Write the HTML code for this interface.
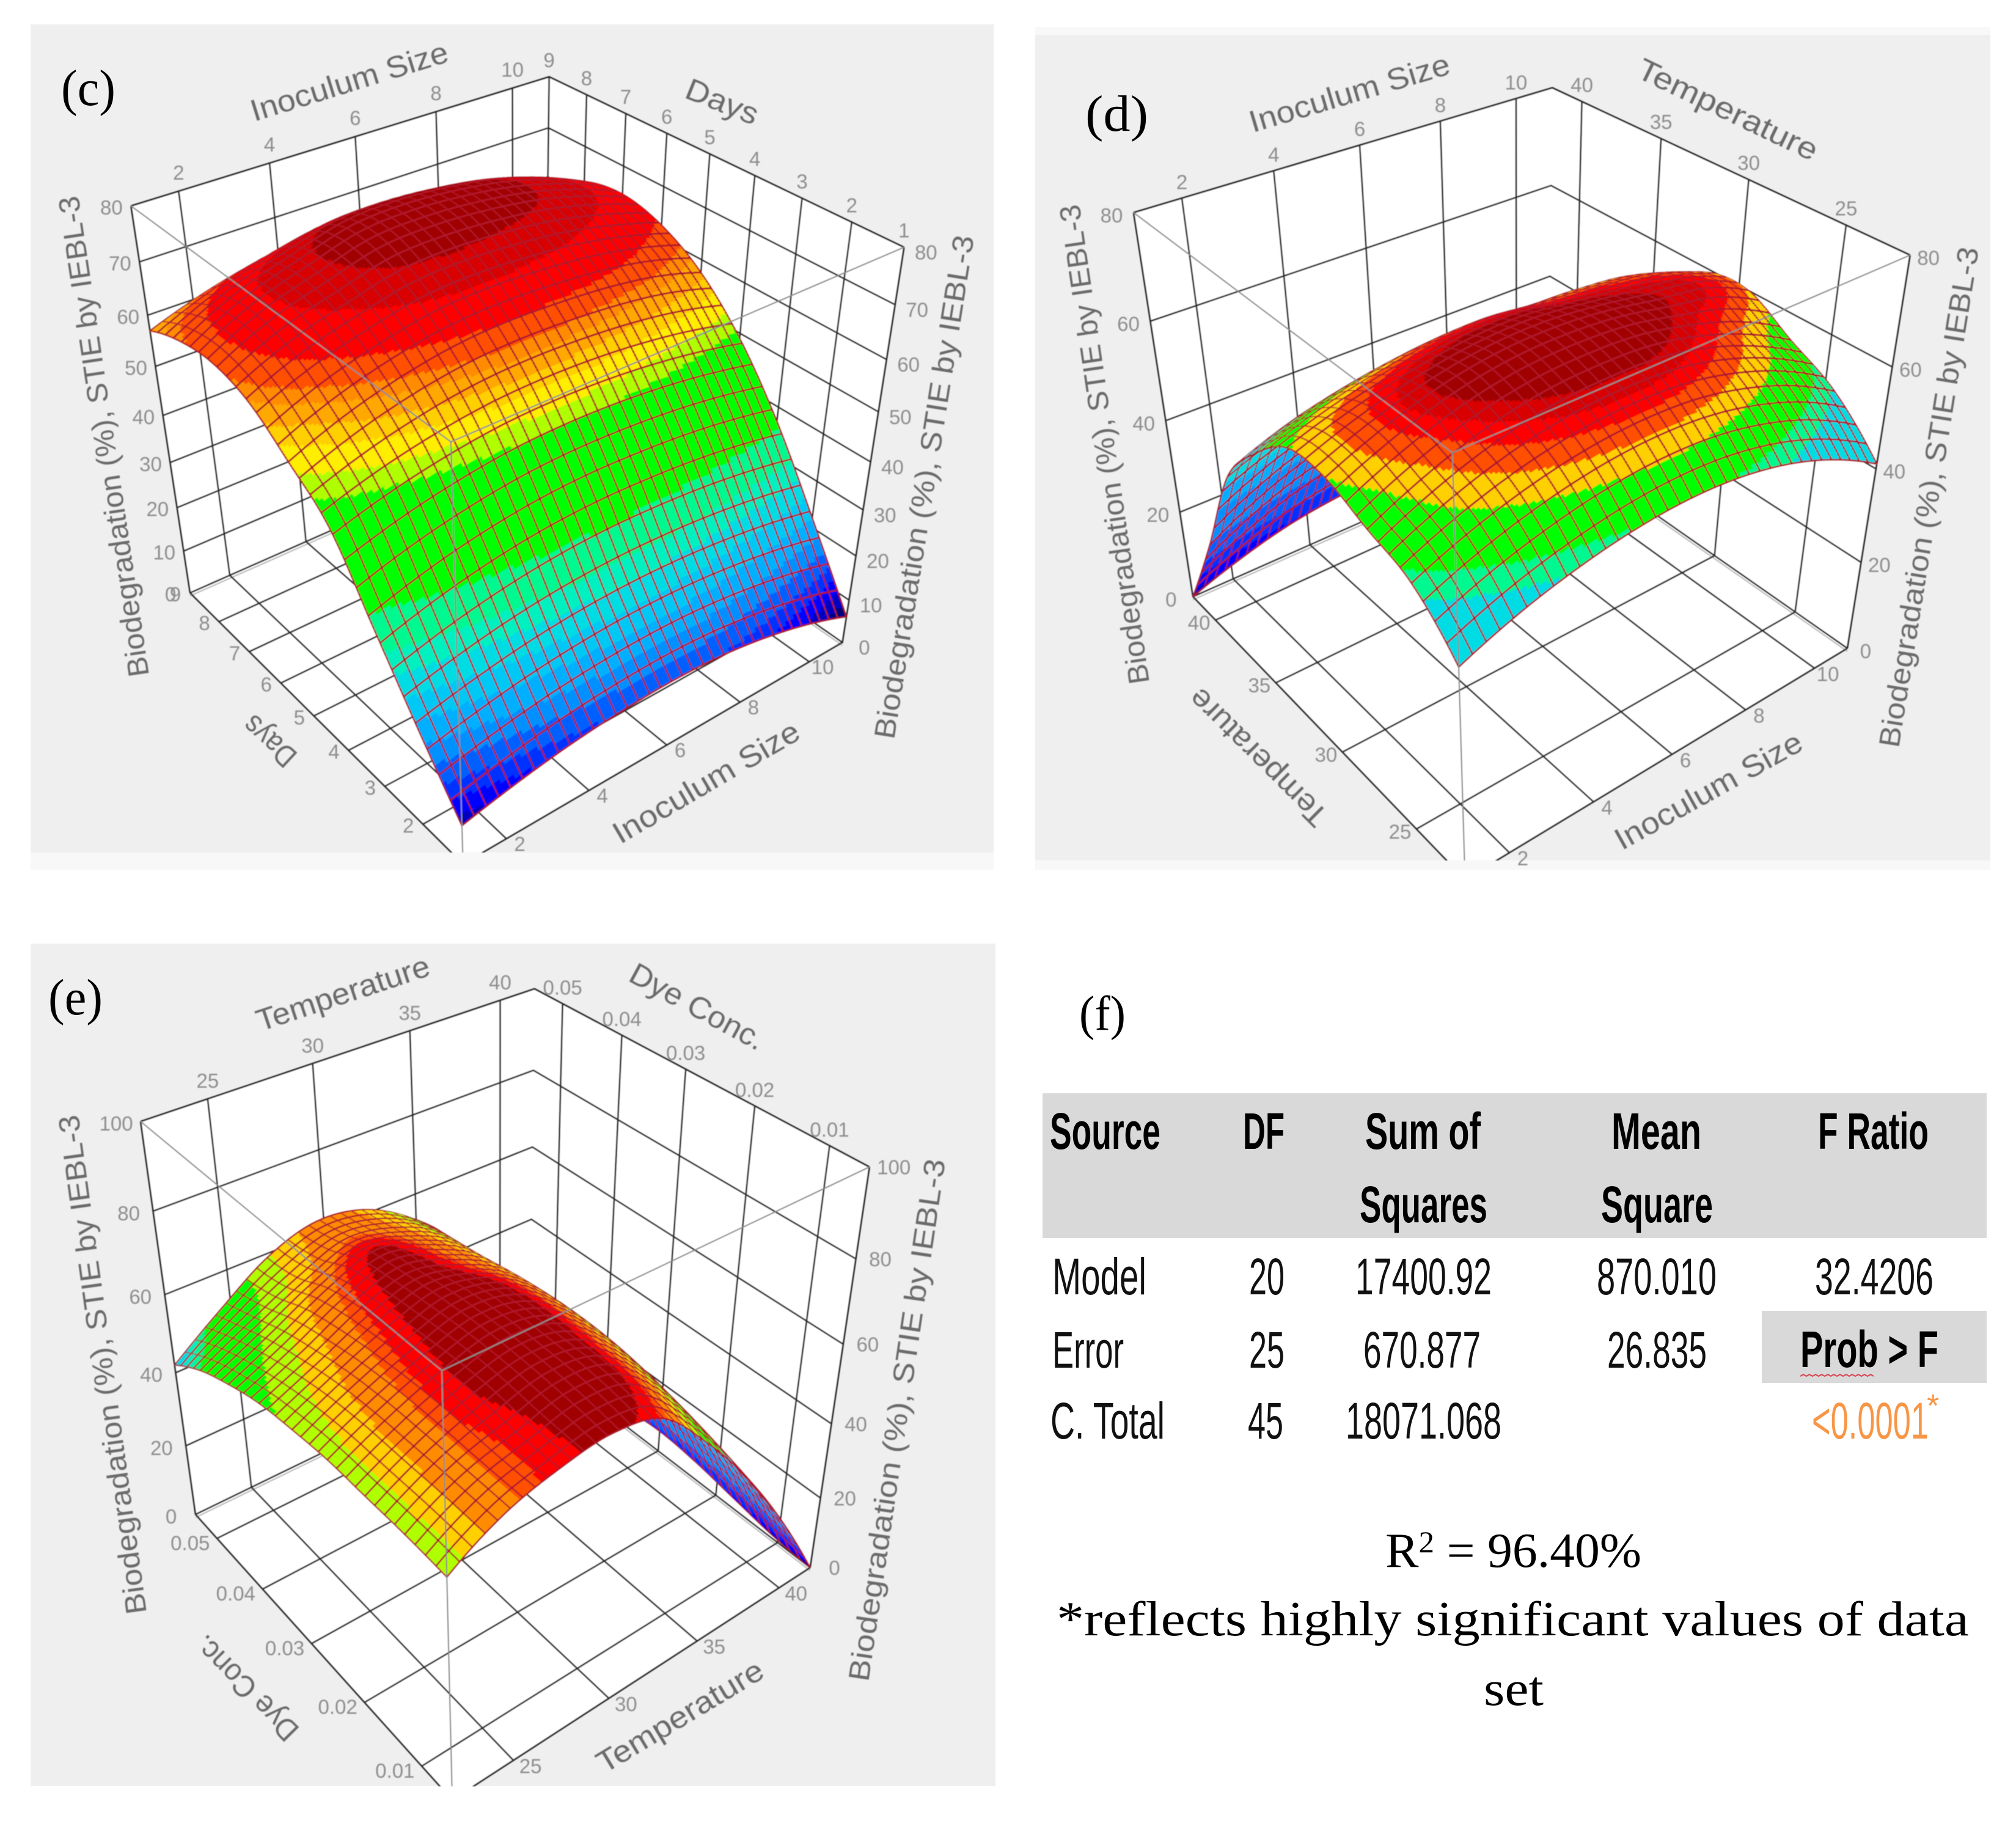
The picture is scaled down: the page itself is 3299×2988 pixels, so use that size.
<!DOCTYPE html>
<html lang="en">
<head>
<meta charset="utf-8">
<title>Response surface plots and ANOVA table</title>
<style>
html,body{margin:0;padding:0;background:#fff}
svg{display:block}
.serif{font-family:"Liberation Serif",serif;fill:#000}
.tb{font-family:"Liberation Sans",sans-serif;font-size:84px;fill:#111}
.tbb{font-family:"Liberation Sans",sans-serif;font-size:84px;font-weight:bold;fill:#000}
</style>
</head>
<body>
<svg id="root" xmlns="http://www.w3.org/2000/svg" width="3299" height="2988" viewBox="0 0 3299 2988">
<defs>
<filter id="soft" x="0" y="0" width="1" height="1"><feGaussianBlur stdDeviation="0.7"/></filter>
<clipPath id="clip-c"><rect x="50" y="40" width="1576" height="1355"/></clipPath>
<clipPath id="clip-d"><rect x="1694" y="57" width="1563" height="1351"/></clipPath>
<clipPath id="clip-e"><rect x="50" y="1544" width="1579" height="1379"/></clipPath>
</defs>
<rect x="0" y="0" width="3299" height="2988" fill="#fff"/>
<rect x="50" y="1395" width="1576" height="29" fill="#f8f8f8"/>
<rect x="50" y="40" width="1576" height="1355" fill="#efefef"/>
<rect x="1694" y="44" width="1563" height="1380" fill="#f8f8f8"/>
<rect x="1694" y="57" width="1563" height="1351" fill="#efefef"/>
<rect x="50" y="1544" width="1579" height="1379" fill="#efefef"/>
<g id="charts" filter="url(#soft)"></g>

<text class="serif" x="100" y="172" font-size="84" textLength="89" lengthAdjust="spacingAndGlyphs">(c)</text>
<text class="serif" x="1776" y="214" font-size="84" textLength="103" lengthAdjust="spacingAndGlyphs">(d)</text>
<text class="serif" x="79" y="1660" font-size="84" textLength="89" lengthAdjust="spacingAndGlyphs">(e)</text>
<text class="serif" x="1766" y="1685" font-size="80" textLength="76" lengthAdjust="spacingAndGlyphs">(f)</text>

<g>
<rect x="1706" y="1789" width="1545" height="237" fill="#d9d9d9"/>
<rect x="2883" y="2145" width="368" height="118" fill="#d9d9d9"/>
<text class="tbb" x="1718" y="1880" textLength="181" lengthAdjust="spacingAndGlyphs">Source</text>
<text class="tbb" x="2034" y="1880" textLength="68" lengthAdjust="spacingAndGlyphs">DF</text>
<text class="tbb" x="2234" y="1880" textLength="189" lengthAdjust="spacingAndGlyphs">Sum of</text>
<text class="tbb" x="2637" y="1880" textLength="147" lengthAdjust="spacingAndGlyphs">Mean</text>
<text class="tbb" x="2975" y="1880" textLength="181" lengthAdjust="spacingAndGlyphs">F Ratio</text>
<text class="tbb" x="2225" y="2000" textLength="209" lengthAdjust="spacingAndGlyphs">Squares</text>
<text class="tbb" x="2620" y="2000" textLength="183" lengthAdjust="spacingAndGlyphs">Square</text>
<text class="tb" x="1722" y="2118" textLength="154" lengthAdjust="spacingAndGlyphs">Model</text>
<text class="tb" x="2044" y="2118" textLength="58" lengthAdjust="spacingAndGlyphs">20</text>
<text class="tb" x="2218" y="2118" textLength="223" lengthAdjust="spacingAndGlyphs">17400.92</text>
<text class="tb" x="2613" y="2118" textLength="196" lengthAdjust="spacingAndGlyphs">870.010</text>
<text class="tb" x="2970" y="2118" textLength="194" lengthAdjust="spacingAndGlyphs">32.4206</text>
<text class="tb" x="1722" y="2238" textLength="117" lengthAdjust="spacingAndGlyphs">Error</text>
<text class="tb" x="2044" y="2238" textLength="58" lengthAdjust="spacingAndGlyphs">25</text>
<text class="tb" x="2231" y="2238" textLength="192" lengthAdjust="spacingAndGlyphs">670.877</text>
<text class="tb" x="2630" y="2238" textLength="163" lengthAdjust="spacingAndGlyphs">26.835</text>
<text class="tbb" x="2946" y="2237" textLength="226" lengthAdjust="spacingAndGlyphs">Prob &gt; F</text>
<path d="M2946 2252l5 -3l5 3l5 -3l5 3l5 -3l5 3l5 -3l5 3l5 -3l5 3l5 -3l5 3l5 -3l5 3l5 -3l5 3l5 -3l5 3l5 -3l5 3l5 -3l5 3l5 -3l5 3" fill="none" stroke="#d64550" stroke-width="2"/>
<text class="tb" x="1719" y="2354" textLength="187" lengthAdjust="spacingAndGlyphs">C. Total</text>
<text class="tb" x="2042" y="2354" textLength="58" lengthAdjust="spacingAndGlyphs">45</text>
<text class="tb" x="2202" y="2354" textLength="255" lengthAdjust="spacingAndGlyphs">18071.068</text>
<text class="tb" x="2965" y="2354" textLength="191" lengthAdjust="spacingAndGlyphs" style="fill:#f79646">&lt;0.0001</text>
<text class="tb" x="3153" y="2318" style="fill:#f79646;font-size:52px">*</text>
</g>

<text class="serif" x="2267" y="2564" font-size="80" textLength="419" lengthAdjust="spacingAndGlyphs">R<tspan font-size="50" dy="-24">2</tspan><tspan dy="24"> = 96.40%</tspan></text>
<text class="serif" x="1729" y="2676" font-size="80" textLength="1493" lengthAdjust="spacingAndGlyphs">*reflects highly significant values of data</text>
<text class="serif" x="2428" y="2790" font-size="80" textLength="98" lengthAdjust="spacingAndGlyphs">set</text>
</svg>

<script>
// ---- Axis ticks ----
const cInoculumTicks = [2, 4, 6, 8, 10];
const cDaysTicks = [1, 2, 3, 4, 5, 6, 7, 8, 9];
const cBioTicks = [0, 10, 20, 30, 40, 50, 60, 70, 80];
const dInoculumTicks = [2, 4, 6, 8, 10];
const dTemperatureTicks = [25, 30, 35, 40];
const dBioTicks = [0, 20, 40, 60, 80];
const eTemperatureTicks = [25, 30, 35, 40];
const eDyeTicks = [0.01, 0.02, 0.03, 0.04, 0.05];
const eBioTicks = [0, 20, 40, 60, 80, 100];

// ---- Surface values (rows: second factor low to high; columns: first factor low to high) ----
const cInoculumSamples = [1, 2.25, 3.5, 4.75, 6, 7.25, 8.5, 9.75, 11];
const cDaysSamples = [1, 2, 3, 4, 5, 6, 7, 8, 9];
const cSurfaceZ = [
  [8.7, 11.2, 13.05, 14.1, 14.5, 14, 12.4, 9.8, 6.1],
  [21, 23.6, 25.5, 26.6, 27, 26.7, 25.75, 24.2, 22],
  [34, 37.3, 39.6, 41, 41.5, 41.2, 40.4, 39, 37],
  [47, 50.1, 52.25, 53.6, 54, 53.7, 52.75, 51.2, 49],
  [53.5, 57.7, 60.6, 62.4, 63, 62.7, 61.9, 60.3, 57.5],
  [59, 63.4, 66.3, 68.5, 69, 68.5, 67.4, 65.3, 62.5],
  [61, 66, 69.2, 72, 72.5, 71.9, 70.5, 68, 64.5],
  [60, 65.25, 68.6, 71.4, 72, 71.3, 69.75, 67, 63],
  [57, 60.5, 63, 64.7, 65, 64.4, 63.25, 61, 58]
];
const dInoculumSamples = [1, 2.25, 3.5, 4.75, 6, 7.25, 8.5, 9.75, 11];
const dTemperatureSamples = [22, 24.5, 27, 29.5, 32, 34.5, 37, 39.5, 42];
const dSurfaceZ = [
  [44, 48.2, 51.1, 52.9, 53.5, 52.7, 50.4, 46.5, 41],
  [52, 56.4, 59.5, 61.4, 62, 61.3, 59, 55.3, 50],
  [55, 60, 63.6, 65.7, 66.3, 65.8, 63.6, 60, 55],
  [58, 62.5, 65.8, 67.6, 68, 67.2, 65.5, 64, 60],
  [57.5, 61, 63.4, 65, 65.4, 64.2, 63.3, 62, 59],
  [50.5, 54.5, 57, 58.5, 59, 58.2, 57.8, 56.5, 52],
  [40, 44, 46.5, 48, 48.5, 48.3, 48, 45.5, 39],
  [19, 24.7, 28.8, 31.2, 32, 31.3, 29, 25.3, 20],
  [0, 3.9, 6.8, 8.4, 9, 8.4, 6.8, 3.9, 0]
];
const eTemperatureSamples = [22, 24.5, 27, 29.5, 32, 34.5, 37, 39.5, 42];
const eDyeSamples = [0.005, 0.01125, 0.0175, 0.02375, 0.03, 0.03625, 0.0425, 0.04875, 0.055];
const eSurfaceZ = [
  [57, 64, 67.5, 69, 66, 54, 39, 21, 0],
  [57.5, 64, 67.5, 70.5, 68.6, 58, 42.5, 25, 1],
  [57.5, 63.8, 68.5, 71.3, 69.2, 60, 45.5, 28, 3],
  [57.5, 63.5, 68.3, 71.5, 69.5, 61, 47.5, 30, 5],
  [56.5, 62.5, 67.5, 71, 68.8, 61, 48, 31, 6],
  [55, 60.5, 66.5, 70, 66.5, 60, 47, 30, 5],
  [52, 58, 64.5, 68.8, 65, 58.5, 45, 28, 3],
  [48, 54.5, 60.5, 65, 63, 57, 44.5, 26, 0],
  [42, 51, 59, 63, 61.5, 55, 44, 24, 0]
];

// ---- Colour bands ----
const bandColors = ['#00007a','#0000c0','#0000ff','#0030ff','#0060ff','#0090ff','#00b0ff','#00c8f4','#00dce4','#00f0c0','#00f890','#00ff00','#b0ff00','#ffee00','#ffd000','#ffa800','#ff8c00','#ff5000','#ff0000','#d80000','#a00000'];
const cBandLevels = [8, 10, 12, 14, 16.5, 19, 22, 25, 28, 31, 36, 50, 52.4, 55, 57, 59, 60.5, 63, 67, 70.2];
const dBandLevels = [1, 3, 8, 13, 20, 30, 36, 38, 50.5, 50.5, 53, 58, 58, 58, 60.5, 60.5, 60.5, 62.5, 64, 65.3];
const eBandLevels = [1, 2, 4, 8, 12, 20, 26, 32, 45, 46.5, 48, 56, 59.4, 59.4, 62.2, 62.2, 65.3, 66.6, 68.5, 68.5];

const NS = 'http://www.w3.org/2000/svg';
const chartsRoot = document.getElementById('charts');

function mk(parent, tag, name) {
  const el = document.createElementNS(NS, tag);
  
  
  parent.appendChild(el);
  return el;
}

// Fit a perspective camera to the eight projected cube corners.
function solveLinear(A, b) {
  const n = b.length;
  for (let i = 0; i < n; i++) {
    let p = i;
    for (let r = i + 1; r < n; r++) if (Math.abs(A[r][i]) > Math.abs(A[p][i])) p = r;
    [A[i], A[p]] = [A[p], A[i]];
    [b[i], b[p]] = [b[p], b[i]];
    for (let r = i + 1; r < n; r++) {
      const f = A[r][i] / A[i][i];
      for (let c = i; c < n; c++) A[r][c] -= f * A[i][c];
      b[r] -= f * b[i];
    }
  }
  const x = new Array(n).fill(0);
  for (let i = n - 1; i >= 0; i--) {
    let s = b[i];
    for (let c = i + 1; c < n; c++) s -= A[i][c] * x[c];
    x[i] = s / A[i][i];
  }
  return x;
}

function fitCamera(c) {
  const pts = [
    [0, 1, 1, c.TL], [1, 1, 1, c.TB], [1, 0, 1, c.TR], [0, 0, 1, c.TF],
    [0, 1, 0, c.BL], [1, 1, 0, c.BB], [1, 0, 0, c.BR], [0, 0, 0, c.BF]
  ];
  const rows = [], rhs = [];
  const S = 1000;
  pts.forEach(([u, v, w, p]) => {
    const X = p[0] / S, Y = p[1] / S;
    rows.push([u, v, w, 1, 0, 0, 0, 0, -X * u, -X * v, -X * w]);
    rhs.push(X);
    rows.push([0, 0, 0, 0, u, v, w, 1, -Y * u, -Y * v, -Y * w]);
    rhs.push(Y);
  });
  const N = [], B = [];
  for (let i = 0; i < 11; i++) {
    N.push(new Array(11).fill(0));
    B.push(0);
    for (let r = 0; r < rows.length; r++) {
      for (let j = 0; j < 11; j++) N[i][j] += rows[r][i] * rows[r][j];
      B[i] += rows[r][i] * rhs[r];
    }
  }
  const a = solveLinear(N, B);
  return (u, v, w) => {
    const d = a[8] * u + a[9] * v + a[10] * w + 1;
    return [S * (a[0] * u + a[1] * v + a[2] * w + a[3]) / d, S * (a[4] * u + a[5] * v + a[6] * w + a[7]) / d];
  };
}

// Smooth resampling of the read-off value grid.
function cubic(p0, p1, p2, p3, t) {
  return 0.5 * (2 * p1 + (p2 - p0) * t + (2 * p0 - 5 * p1 + 4 * p2 - p3) * t * t + (3 * p1 - p0 - 3 * p2 + p3) * t * t * t);
}
function at1d(arr, s) {
  const n = arr.length - 1;
  const x = Math.min(Math.max(s, 0), 1) * n;
  const i = Math.min(Math.floor(x), n - 1);
  const g = k => k < 0 ? 3 * arr[0] - 3 * arr[1] + arr[2] : k > n ? 3 * arr[n] - 3 * arr[n - 1] + arr[n - 2] : arr[k];
  return cubic(g(i - 1), g(i), g(i + 1), g(i + 2), x - i);
}
function sampleGrid(grid, s, t) {
  return at1d(grid.map(row => at1d(row, s)), t);
}

function placeText(parent, name, str, a, b, size, color) {
  const ang = Math.atan2(b[1] - a[1], b[0] - a[0]) * 180 / Math.PI;
  const len = Math.hypot(b[0] - a[0], b[1] - a[1]);
  const el = mk(parent, 'text', name);
  el.setAttribute('transform', 'translate(' + a[0] + ' ' + a[1] + ') rotate(' + ang.toFixed(2) + ')');
  el.setAttribute('font-family', '"Liberation Sans", sans-serif');
  el.setAttribute('font-size', size);
  el.setAttribute('fill', color);
  el.setAttribute('textLength', len.toFixed(1));
  el.setAttribute('lengthAdjust', 'spacingAndGlyphs');
  el.textContent = str;
}

function drawPanel(o) {
  const g = mk(chartsRoot, 'g', o.id + '-chart');
  const clip = mk(g, 'g', o.id + '-plot-cube');
  clip.setAttribute('clip-path', 'url(#clip-' + o.key + ')');
  const proj = fitCamera(o.corners);
  const U = x => (x - o.uRange[0]) / (o.uRange[1] - o.uRange[0]);
  const V = x => (x - o.vRange[0]) / (o.vRange[1] - o.vRange[0]);
  const Z = x => (x - o.zRange[0]) / (o.zRange[1] - o.zRange[0]);
  const P = (a, b, c) => proj(U(a), V(b), Z(c));
  const N = (a, b, c) => proj(a, b, c);
  const pstr = p => p[0].toFixed(1) + ' ' + p[1].toFixed(1);

  const hex = mk(clip, 'polygon', o.id + '-plot-walls');
  hex.setAttribute('points', [N(0,1,1), N(1,1,1), N(1,0,1), N(1,0,0), N(0,0,0), N(0,1,0)].map(pstr).join(' '));
  hex.setAttribute('fill', '#ffffff');

  let grid = '';
  const seg = (a, b) => { grid += 'M' + pstr(a) + 'L' + pstr(b); };
  const polyl = (a, b, c) => { grid += 'M' + pstr(a) + 'L' + pstr(b) + 'L' + pstr(c); };
  o.uTicks.forEach(t => {
    polyl(P(t, o.vRange[0], o.zRange[0]), P(t, o.vRange[1], o.zRange[0]), P(t, o.vRange[1], o.zRange[1]));
  });
  o.vTicks.forEach(t => {
    polyl(P(o.uRange[0], t, o.zRange[0]), P(o.uRange[1], t, o.zRange[0]), P(o.uRange[1], t, o.zRange[1]));
  });
  o.zTicks.forEach(t => {
    polyl(P(o.uRange[0], o.vRange[1], t), P(o.uRange[1], o.vRange[1], t), P(o.uRange[1], o.vRange[0], t));
  });
  seg(N(0,1,0), N(0,1,1)); seg(N(0,1,1), N(1,1,1)); seg(N(1,1,1), N(1,0,1)); seg(N(1,0,1), N(1,0,0));
  seg(N(1,0,0), N(0,0,0)); seg(N(0,0,0), N(0,1,0));
  const shift = p => [p[0], p[1] + 5];
  const doubled = mk(clip, 'path', o.id + '-floor-back-shadow-line');
  doubled.setAttribute('d', 'M' + pstr(shift(N(0,1,0))) + 'L' + pstr(shift(N(1,1,0))) + 'L' + pstr(shift(N(1,0,0))));
  doubled.setAttribute('fill', 'none');
  doubled.setAttribute('stroke', '#b4b4b4');
  doubled.setAttribute('stroke-width', '2');
  const gridEl = mk(clip, 'path', o.id + '-gridlines');
  gridEl.setAttribute('d', grid);
  gridEl.setAttribute('fill', 'none');
  gridEl.setAttribute('stroke', '#2c2c2c');
  gridEl.setAttribute('stroke-width', '2.8');

  // Surface: painted row by row from the far corner to the near corner.
  const FU = 4, FV = 6, nu = o.meshU * FU, nv = o.meshV * FV;
  const pts = [], vals = [];
  for (let j = 0; j <= nv; j++) {
    pts.push([]);
    vals.push([]);
    for (let i = 0; i <= nu; i++) {
      const s = i / nu, t = j / nv;
      const z = Math.max(0, sampleGrid(o.surface, s, t));
      vals[j].push(z);
      pts[j].push(proj(s, t, Z(z)));
    }
  }
  const colorOf = z => {
    let k = 0;
    while (k < o.levels.length && z >= o.levels[k]) k++;
    return bandColors[k];
  };
  const surf = mk(clip, 'g', o.id + '-surface');
  const vLine = j => {
    let d = '';
    for (let i = 0; i <= nu; i++) d += (i ? 'L' : 'M') + pstr(pts[j][i]);
    return d;
  };
  for (let j = nv - 1; j >= 0; j--) {
    let run = '', runColor = null, wire = '';
    const flush = () => {
      if (!run) return;
      const q = mk(surf, 'path', o.id + '-surface-band');
      q.setAttribute('d', run);
      q.setAttribute('fill', runColor);
      q.setAttribute('stroke', runColor);
      q.setAttribute('stroke-width', '1');
      run = '';
    };
    for (let i = nu - 1; i >= 0; i--) {
      const c = colorOf((vals[j][i] + vals[j][i + 1] + vals[j + 1][i] + vals[j + 1][i + 1]) / 4);
      if (c !== runColor) { flush(); runColor = c; }
      run += 'M' + pstr(pts[j][i]) + 'L' + pstr(pts[j][i + 1]) + 'L' + pstr(pts[j + 1][i + 1]) + 'L' + pstr(pts[j + 1][i]) + 'Z';
    }
    flush();
    for (let i = 0; i <= nu; i += FU) wire += 'M' + pstr(pts[j][i]) + 'L' + pstr(pts[j + 1][i]);
    if ((j + 1) % FV === 0) wire += vLine(j + 1);
    if (j % FV === 0) wire += vLine(j);
    const w = mk(surf, 'path', o.id + '-surface-mesh');
    w.setAttribute('d', wire);
    w.setAttribute('fill', 'none');
    w.setAttribute('stroke', '#b0182a');
    w.setAttribute('stroke-width', o.wireWidth);
  }

  const front = mk(clip, 'path', o.id + '-cube-front-edges');
  front.setAttribute('d', 'M' + pstr(N(0,1,1)) + 'L' + pstr(N(0,0,1)) + 'L' + pstr(N(1,0,1)) + 'M' + pstr(N(0,0,1)) + 'L' + pstr(N(0,0,0)));
  front.setAttribute('fill', 'none');
  front.setAttribute('stroke', '#8c8c8c');
  front.setAttribute('stroke-width', '2.2');

  // Tick labels
  const label = (name, str, p, off) => {
    const t = mk(g, 'text', name);
    t.setAttribute('x', (p[0] + off[0]).toFixed(1));
    t.setAttribute('y', (p[1] + off[1] + 12).toFixed(1));
    t.setAttribute('text-anchor', 'middle');
    t.setAttribute('font-family', '"Liberation Sans", sans-serif');
    t.setAttribute('font-size', '33');
    t.setAttribute('fill', '#8e8e8e');
    t.textContent = str;
  };
  const vf = o.vFormat || (x => String(x));
  o.zTicks.forEach(t => {
    label(o.id + '-z-tick-left', String(t), P(o.uRange[0], o.vRange[1], t), o.off.zL);
    label(o.id + '-z-tick-right', String(t), P(o.uRange[1], o.vRange[0], t), o.off.zR);
  });
  o.uTicks.forEach(t => {
    label(o.id + '-u-tick-top', String(t), P(t, o.vRange[1], o.zRange[1]), o.off.uT);
    label(o.id + '-u-tick-front', String(t), P(t, o.vRange[0], o.zRange[0]), o.off.uF);
  });
  o.vTicks.forEach(t => {
    label(o.id + '-v-tick-top', vf(t), P(o.uRange[1], t, o.zRange[1]), o.off.vT);
    if (t !== o.vRange[0]) label(o.id + '-v-tick-front', vf(t), P(o.uRange[0], t, o.zRange[0]), o.off.vF);
  });
  o.titles.forEach(t => placeText(g, o.id + '-' + t[0], t[1], t[2], t[3], t[4], '#6a6a6a'));
}

drawPanel({
  id: 'panel-c', key: 'c',
  corners: { TL: [214, 338], TB: [897, 125], TR: [1478, 402], TF: [742, 726], BL: [310, 966], BB: [894, 717], BR: [1378, 1050], BF: [756, 1415] },
  uRange: [cInoculumSamples[0], cInoculumSamples[8]],
  vRange: [cDaysSamples[0], cDaysSamples[8]],
  zRange: [0, 80],
  uTicks: cInoculumTicks, vTicks: cDaysTicks, zTicks: cBioTicks,
  surface: cSurfaceZ, levels: cBandLevels, meshU: 36, meshV: 30, wireWidth: 2.8,
  off: { zL: [-32, 2], zR: [36, 8], uT: [0, -31], uF: [22, 8], vT: [0, -28], vF: [-24, 2] },
  titles: [
    ['z-title-left', 'Biodegradation (%), STIE by IEBL-3', [244, 1105], [128, 319], 48],
    ['z-title-right', 'Biodegradation (%), STIE by IEBL-3', [1463, 1211], [1594, 388], 48],
    ['u-title-top', 'Inoculum Size', [416, 199], [737, 100], 50],
    ['v-title-top', 'Days', [1118, 159], [1233, 205], 50],
    ['u-title-front', 'Inoculum Size', [1015, 1382], [1313, 1207], 50],
    ['v-title-front', 'Days', [489, 1234], [416, 1167], 50]
  ]
});

drawPanel({
  id: 'panel-d', key: 'd',
  corners: { TL: [1853, 351], TB: [2539, 143], TR: [3128, 424], TF: [2378, 730], BL: [1955, 980], BB: [2533, 714], BR: [3022, 1062], BF: [2395, 1440] },
  uRange: [dInoculumSamples[0], dInoculumSamples[8]],
  vRange: [dTemperatureSamples[0], dTemperatureSamples[8]],
  zRange: [0, 80],
  uTicks: dInoculumTicks, vTicks: dTemperatureTicks, zTicks: dBioTicks,
  surface: dSurfaceZ, levels: dBandLevels, meshU: 36, meshV: 32, wireWidth: 2.8,
  off: { zL: [-36, 4], zR: [30, 4], uT: [0, -27], uF: [22, 9], vT: [0, -28], vF: [-27, 4] },
  titles: [
    ['z-title-left', 'Biodegradation (%), STIE by IEBL-3', [1881, 1117], [1766, 333], 48],
    ['z-title-right', 'Biodegradation (%), STIE by IEBL-3', [3107, 1225], [3238, 407], 48],
    ['u-title-top', 'Inoculum Size', [2050, 217], [2376, 120], 50],
    ['v-title-top', 'Temperature', [2675, 125], [2965, 264], 50],
    ['u-title-front', 'Inoculum Size', [2654, 1392], [2954, 1225], 50],
    ['v-title-front', 'Temperature', [2176, 1332], [1965, 1123], 50]
  ]
});

drawPanel({
  id: 'panel-e', key: 'e',
  corners: { TL: [229, 1837], TB: [873, 1619], TR: [1426, 1913], TF: [723, 2235], BL: [321, 2482], BB: [868, 2207], BR: [1323, 2568], BF: [740, 2945] },
  uRange: [eTemperatureSamples[0], eTemperatureSamples[8]],
  vRange: [eDyeSamples[0], eDyeSamples[8]],
  zRange: [0, 100],
  uTicks: eTemperatureTicks, vTicks: eDyeTicks, zTicks: eBioTicks,
  surface: eSurfaceZ, levels: eBandLevels, meshU: 36, meshV: 32, wireWidth: 2.6,
  vFormat: x => x.toFixed(2),
  off: { zL: [-40, 3], zR: [40, 0], uT: [0, -30], uF: [28, 9], vT: [0, -27], vF: [-44, 7] },
  titles: [
    ['z-title-left', 'Biodegradation (%), STIE by IEBL-3', [240, 2639], [128, 1823], 48],
    ['z-title-right', 'Biodegradation (%), STIE by IEBL-3', [1421, 2753], [1547, 1899], 48],
    ['u-title-top', 'Temperature', [426, 1688], [707, 1595], 50],
    ['v-title-top', 'Dye Conc.', [1026, 1604], [1240, 1720], 50],
    ['u-title-front', 'Temperature', [989, 2903], [1254, 2743], 50],
    ['v-title-front', 'Dye Conc.', [492, 2829], [337, 2672], 50]
  ]
});
</script>
</body>
</html>
